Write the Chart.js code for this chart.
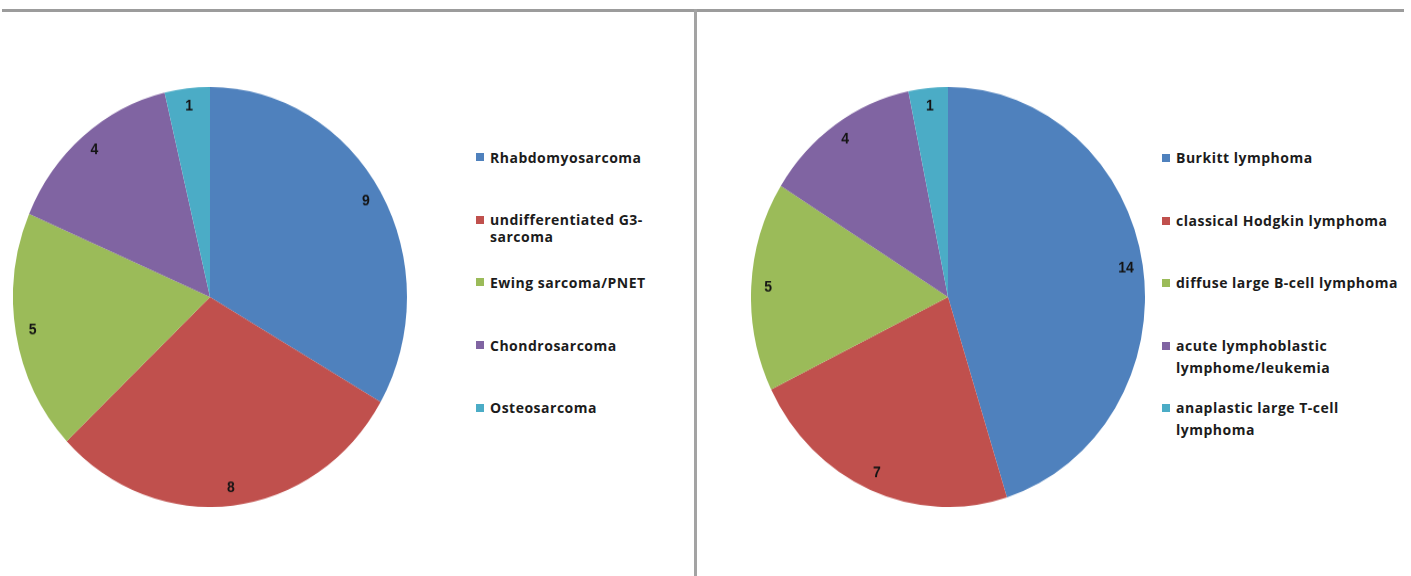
<!DOCTYPE html>
<html>
<head>
<meta charset="utf-8">
<script src="https://cdn.jsdelivr.net/npm/chart.js@4/dist/chart.umd.min.js"></script>
<style>
  html, body { margin: 0; padding: 0; background: #fff; }
  body { width: 1411px; height: 576px; overflow: hidden; position: relative; font-family: "Open Sans", sans-serif; }
  .rule-h { position: absolute; left: 2px; top: 9px; width: 1402px; height: 3px; background: #9c9c9c; }
  .rule-v { position: absolute; left: 694px; top: 9px; width: 3px; height: 567px; background: #a3a3a3; }
  .pie { position: absolute; width: 394px; height: 394px; transform: scaleY(1.066); transform-origin: 50% 50%; }
  .legend { position: absolute; margin: 0; padding: 0; list-style: none; }
  .legend li { position: absolute; left: 0; white-space: nowrap; font-size: 14px; font-weight: 700; letter-spacing: 0.5px; color: #1c1c1c; }
  .legend .sw { position: absolute; left: 0; width: 8px; height: 8px; }
  .legend .tx { position: absolute; left: 14px; top: 0; }
</style>
</head>
<body>
<div class="rule-h"></div>
<div class="rule-v"></div>

<canvas id="sarcoma" class="pie" width="394" height="394" style="left:13px;top:100px"></canvas>
<ul id="sarcomaLegend" class="legend" style="left:476px;top:0"></ul>

<canvas id="lymphoma" class="pie" width="394" height="394" style="left:751px;top:100px"></canvas>
<ul id="lymphomaLegend" class="legend" style="left:1162px;top:0"></ul>

<script>
// Slice colours, shared by both pies
const sliceColors = ['#4F81BD', '#C0504D', '#9BBB59', '#8064A2', '#4BACC6'];

// Sarcoma cases
const sarcomaTypes = [
  ['Rhabdomyosarcoma'],
  ['undifferentiated G3-', 'sarcoma'],
  ['Ewing sarcoma/PNET'],
  ['Chondrosarcoma'],
  ['Osteosarcoma']
];
const sarcomaCounts = [9, 8, 5, 4, 1];

// Lymphoma cases
const lymphomaTypes = [
  ['Burkitt lymphoma'],
  ['classical Hodgkin lymphoma'],
  ['diffuse large B-cell lymphoma'],
  ['acute lymphoblastic', 'lymphome/leukemia'],
  ['anaplastic large T-cell', 'lymphoma']
];
const lymphomaCounts = [14, 7, 5, 4, 1];

// Writes each slice's count just inside the rim
const sliceLabels = {
  id: 'sliceLabels',
  afterDatasetsDraw(chart) {
    const ctx = chart.ctx;
    const values = chart.data.datasets[0].data;
    ctx.save();
    ctx.font = 'bold 14px "Liberation Sans", sans-serif';
    ctx.fillStyle = '#141414';
    ctx.textAlign = 'center';
    ctx.textBaseline = 'middle';
    chart.getDatasetMeta(0).data.forEach((arc, i) => {
      const p = arc.getProps(['x', 'y', 'startAngle', 'endAngle', 'outerRadius'], true);
      const mid = (p.startAngle + p.endAngle) / 2;
      const d = p.outerRadius - 17;
      ctx.fillText(String(values[i]), p.x + Math.cos(mid) * d, p.y + Math.sin(mid) * d);
    });
    ctx.restore();
  }
};

function drawPie(canvasId, labels, values) {
  return new Chart(document.getElementById(canvasId), {
    type: 'pie',
    data: {
      labels: labels.map(l => l.join(' ')),
      datasets: [{ data: values, backgroundColor: sliceColors, borderWidth: 0, hoverOffset: 0 }]
    },
    options: {
      responsive: false,
      animation: false,
      devicePixelRatio: 1,
      layout: { padding: 0 },
      plugins: { legend: { display: false }, tooltip: { enabled: false } }
    },
    plugins: [sliceLabels]
  });
}

function buildLegend(listId, labels, firstY, step, lineH) {
  const ul = document.getElementById(listId);
  labels.forEach((lines, i) => {
    const li = document.createElement('li');
    li.style.top = (firstY + i * step - lineH / 2) + 'px';
    const sw = document.createElement('span');
    sw.className = 'sw';
    sw.style.background = sliceColors[i];
    sw.style.top = (lineH / 2 - 4) + 'px';
    const tx = document.createElement('span');
    tx.className = 'tx';
    tx.style.lineHeight = lineH + 'px';
    tx.innerHTML = lines.join('<br>');
    li.appendChild(sw);
    li.appendChild(tx);
    ul.appendChild(li);
  });
}

drawPie('sarcoma', sarcomaTypes, sarcomaCounts);
drawPie('lymphoma', lymphomaTypes, lymphomaCounts);
buildLegend('sarcomaLegend', sarcomaTypes, 157, 62.7, 17);
buildLegend('lymphomaLegend', lymphomaTypes, 158, 62.5, 22);
</script>
</body>
</html>
